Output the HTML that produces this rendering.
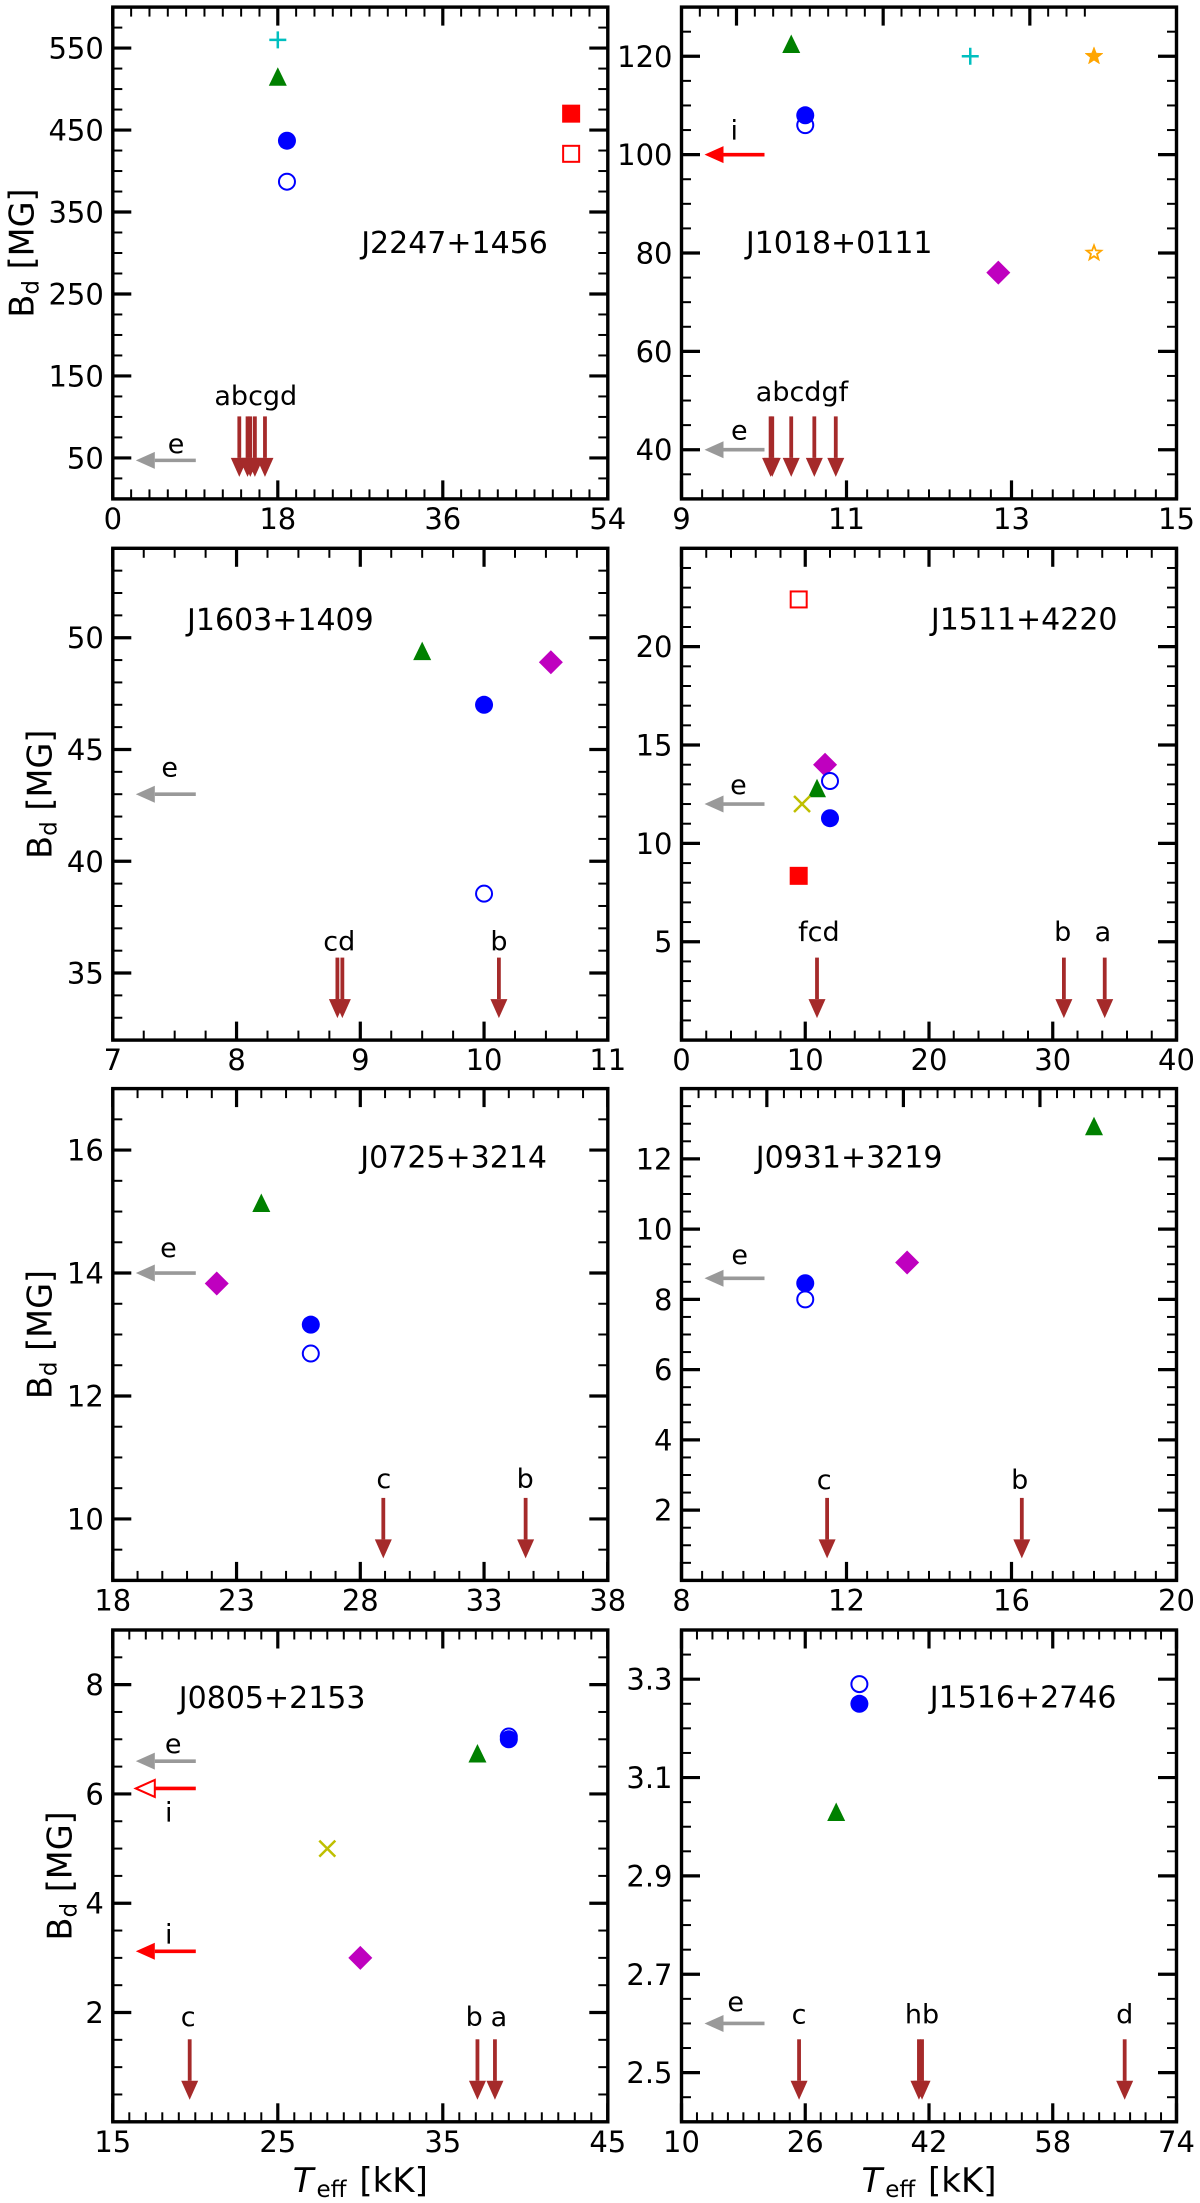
<!DOCTYPE html>
<html lang="en">
<head>
<meta charset="utf-8">
<title>Dipole field strength vs effective temperature</title>
<style>
html,body{margin:0;padding:0;background:#fff;}
body{width:1200px;height:2203px;overflow:hidden;}
svg{display:block;}
text{font-family:"DejaVu Sans","Liberation Sans",sans-serif;fill:#000;}
</style>
</head>
<body>
<svg id="chart" xmlns="http://www.w3.org/2000/svg" width="1200" height="2203" viewBox="0 0 1200 2203"></svg>
<script>
/* J2247+1456 */
const xLimJ2247 = [0, 54];
const yLimJ2247 = [0, 600];
const xTicksJ2247 = ['0', '18', '36', '54'];
const yTicksJ2247 = ['50', '150', '250', '350', '450', '550'];
const pointsJ2247 = [
  {kind:'plus', x:18, y:560}, {kind:'triangle', x:18, y:515},
  {kind:'open-circle', x:19, y:387}, {kind:'filled-circle', x:19, y:437},
  {kind:'filled-square', x:50, y:470}, {kind:'open-square', x:50, y:421}
];
const downArrowsJ2247 = [13.8, 14.7, 15.0, 15.5, 16.6];
const leftArrowsJ2247 = [{kind:'e', y:47}];
const labelsJ2247 = [{t:'abcgd', x:15.6, y:114.7}, {t:'e', x:6.9, y:55.8}];
const titleJ2247 = {t:'J2247+1456', x:27.1, y:300};

/* J1018+0111 */
const xLimJ1018 = [9, 15];
const yLimJ1018 = [30, 130];
const xTicksJ1018 = ['9', '11', '13', '15'];
const yTicksJ1018 = ['40', '60', '80', '100', '120'];
const pointsJ1018 = [
  {kind:'triangle', x:10.33, y:122.5}, {kind:'open-circle', x:10.5, y:106},
  {kind:'filled-circle', x:10.5, y:108}, {kind:'plus', x:12.5, y:120},
  {kind:'filled-star', x:14, y:120}, {kind:'open-star', x:14, y:80},
  {kind:'diamond', x:12.84, y:76}
];
const downArrowsJ1018 = [10.08, 10.1, 10.33, 10.61, 10.87];
const leftArrowsJ1018 = [{kind:'i', y:100}, {kind:'e', y:40}];
const labelsJ1018 = [{t:'abcdgf', x:10.46, y:49.9}, {t:'e', x:9.7, y:42.1}, {t:'i', x:9.64, y:103.1}];
const titleJ1018 = {t:'J1018+0111', x:9.78, y:80};

/* J1603+1409 */
const xLimJ1603 = [7, 11];
const yLimJ1603 = [32, 54];
const xTicksJ1603 = ['7', '8', '9', '10', '11'];
const yTicksJ1603 = ['35', '40', '45', '50'];
const pointsJ1603 = [
  {kind:'triangle', x:9.5, y:49.4}, {kind:'diamond', x:10.54, y:48.9},
  {kind:'filled-circle', x:10, y:47}, {kind:'open-circle', x:10, y:38.55}
];
const downArrowsJ1603 = [8.815, 8.855, 10.12];
const leftArrowsJ1603 = [{kind:'e', y:43}];
const labelsJ1603 = [{t:'cd', x:8.83, y:36}, {t:'b', x:10.12, y:36}, {t:'e', x:7.46, y:43.8}];
const titleJ1603 = {t:'J1603+1409', x:7.6, y:50.35};

/* J1511+4220 */
const xLimJ1511 = [0, 40];
const yLimJ1511 = [0, 25];
const xTicksJ1511 = ['0', '10', '20', '30', '40'];
const yTicksJ1511 = ['5', '10', '15', '20'];
const pointsJ1511 = [
  {kind:'open-square', x:9.47, y:22.4}, {kind:'filled-square', x:9.47, y:8.35},
  {kind:'diamond', x:11.6, y:14}, {kind:'triangle', x:10.95, y:12.8},
  {kind:'open-circle', x:12, y:13.17}, {kind:'cross', x:9.74, y:12},
  {kind:'filled-circle', x:12, y:11.28}
];
const downArrowsJ1511 = [10.95, 30.9, 34.2];
const leftArrowsJ1511 = [{kind:'e', y:12}];
const labelsJ1511 = [{t:'fcd', x:11.1, y:5.05}, {t:'b', x:30.8, y:5.05}, {t:'a', x:34.05, y:5.05}, {t:'e', x:4.6, y:12.5}];
const titleJ1511 = {t:'J1511+4220', x:20.15, y:20.88};

/* J0725+3214 */
const xLimJ0725 = [18, 38];
const yLimJ0725 = [9, 17];
const xTicksJ0725 = ['18', '23', '28', '33', '38'];
const yTicksJ0725 = ['10', '12', '14', '16'];
const pointsJ0725 = [
  {kind:'triangle', x:24, y:15.14}, {kind:'diamond', x:22.2, y:13.83},
  {kind:'filled-circle', x:26, y:13.16}, {kind:'open-circle', x:26, y:12.69}
];
const downArrowsJ0725 = [28.93, 34.68];
const leftArrowsJ0725 = [{kind:'e', y:14}];
const labelsJ0725 = [{t:'c', x:28.95, y:10.5}, {t:'b', x:34.66, y:10.5}, {t:'e', x:20.25, y:14.26}];
const titleJ0725 = {t:'J0725+3214', x:28.0, y:15.72};

/* J0931+3219 */
const xLimJ0931 = [8, 20];
const yLimJ0931 = [0, 14];
const xTicksJ0931 = ['8', '12', '16', '20'];
const yTicksJ0931 = ['2', '4', '6', '8', '10', '12'];
const pointsJ0931 = [
  {kind:'triangle', x:18, y:12.93}, {kind:'diamond', x:13.47, y:9.05},
  {kind:'open-circle', x:11, y:8}, {kind:'filled-circle', x:11, y:8.46}
];
const downArrowsJ0931 = [11.53, 16.25];
const leftArrowsJ0931 = [{kind:'e', y:8.6}];
const labelsJ0931 = [{t:'c', x:11.46, y:2.6}, {t:'b', x:16.2, y:2.6}, {t:'e', x:9.41, y:9}];
const titleJ0931 = {t:'J0931+3219', x:9.8, y:11.76};

/* J0805+2153 */
const xLimJ0805 = [15, 45];
const yLimJ0805 = [0, 9];
const xTicksJ0805 = ['15', '25', '35', '45'];
const yTicksJ0805 = ['2', '4', '6', '8'];
const pointsJ0805 = [
  {kind:'open-circle', x:39, y:7.05}, {kind:'filled-circle', x:39, y:7},
  {kind:'triangle', x:37.1, y:6.74}, {kind:'cross', x:28, y:5},
  {kind:'diamond', x:30, y:3}
];
const downArrowsJ0805 = [19.66, 37.1, 38.16];
const leftArrowsJ0805 = [{kind:'e', y:6.6}, {kind:'i-open', y:6.1}, {kind:'i', y:3.12}];
const labelsJ0805 = [
  {t:'e', x:18.66, y:6.75}, {t:'i', x:18.39, y:5.5}, {t:'i', x:18.39, y:3.26},
  {t:'c', x:19.57, y:1.75}, {t:'b', x:36.9, y:1.75}, {t:'a', x:38.4, y:1.75}
];
const titleJ0805 = {t:'J0805+2153', x:19, y:7.57};

/* J1516+2746 */
const xLimJ1516 = [10, 74];
const yLimJ1516 = [2.4, 3.4];
const xTicksJ1516 = ['10', '26', '42', '58', '74'];
const yTicksJ1516 = ['2.5', '2.7', '2.9', '3.1', '3.3'];
const pointsJ1516 = [
  {kind:'open-circle', x:33, y:3.29}, {kind:'filled-circle', x:33, y:3.25},
  {kind:'triangle', x:30, y:3.03}
];
const downArrowsJ1516 = [25.2, 40.7, 41.1, 67.3];
const leftArrowsJ1516 = [{kind:'e', y:2.6}];
const labelsJ1516 = [{t:'c', x:25.2, y:2.6}, {t:'hb', x:41.1, y:2.6}, {t:'d', x:67.3, y:2.6}, {t:'e', x:17, y:2.625}];
const titleJ1516 = {t:'J1516+2746', x:42.1, y:3.242};

const panels = [
  {id:'j2247', col:0, row:0, xLim:xLimJ2247, yLim:yLimJ2247, xT:xTicksJ2247, yT:yTicksJ2247, xMinor:2, yMinor:25, pts:pointsJ2247, down:downArrowsJ2247, left:leftArrowsJ2247, labels:labelsJ2247, title:titleJ2247, yLabelX:33.7},
  {id:'j1018', col:1, row:0, xLim:xLimJ1018, yLim:yLimJ1018, xT:xTicksJ1018, yT:yTicksJ1018, xMinor:0.25, yMinor:5, pts:pointsJ1018, down:downArrowsJ1018, left:leftArrowsJ1018, labels:labelsJ1018, title:titleJ1018, topTicks:{div:27, count:22, first:3, every:8}},
  {id:'j1603', col:0, row:1, xLim:xLimJ1603, yLim:yLimJ1603, xT:xTicksJ1603, yT:yTicksJ1603, xMinor:0.25, yMinor:1, pts:pointsJ1603, down:downArrowsJ1603, left:leftArrowsJ1603, labels:labelsJ1603, title:titleJ1603, yLabelX:51.7},
  {id:'j1511', col:1, row:1, xLim:xLimJ1511, yLim:yLimJ1511, xT:xTicksJ1511, yT:yTicksJ1511, xMinor:2, yMinor:1, pts:pointsJ1511, down:downArrowsJ1511, left:leftArrowsJ1511, labels:labelsJ1511, title:titleJ1511},
  {id:'j0725', col:0, row:2, xLim:xLimJ0725, yLim:yLimJ0725, xT:xTicksJ0725, yT:yTicksJ0725, xMinor:1, yMinor:0.5, pts:pointsJ0725, down:downArrowsJ0725, left:leftArrowsJ0725, labels:labelsJ0725, title:titleJ0725, yLabelX:51.7},
  {id:'j0931', col:1, row:2, xLim:xLimJ0931, yLim:yLimJ0931, xT:xTicksJ0931, yT:yTicksJ0931, xMinor:0.5, yMinor:0.5, pts:pointsJ0931, down:downArrowsJ0931, left:leftArrowsJ0931, labels:labelsJ0931, title:titleJ0931, topTicks:{div:29, count:28, first:5, every:8}},
  {id:'j0805', col:0, row:3, xLim:xLimJ0805, yLim:yLimJ0805, xT:xTicksJ0805, yT:yTicksJ0805, xMinor:1, yMinor:0.5, pts:pointsJ0805, down:downArrowsJ0805, left:leftArrowsJ0805, labels:labelsJ0805, title:titleJ0805, yLabelX:71.6, xLabel:true},
  {id:'j1516', col:1, row:3, xLim:xLimJ1516, yLim:yLimJ1516, xT:xTicksJ1516, yT:yTicksJ1516, xMinor:2, yMinor:0.05, pts:pointsJ1516, down:downArrowsJ1516, left:leftArrowsJ1516, labels:labelsJ1516, title:titleJ1516, xLabel:true}
];

const colLeft = [112.8, 681.5];
const panelWidth = 495;
const rowTop = [7.1, 548.3, 1088.6, 1630];
const panelHeight = 491.8;
const SVGNS = 'http://www.w3.org/2000/svg';
const root = document.getElementById('chart');

const arrowStyle = {
  'e': {stroke:'#999999', fill:'#999999'},
  'i': {stroke:'#ff0000', fill:'#ff0000'},
  'i-open': {stroke:'#ff0000', fill:'#ffffff'}
};

function make(tag, attrs, parent) {
  const el = document.createElementNS(SVGNS, tag);
  for (const k in attrs) el.setAttribute(k, attrs[k]);
  parent.appendChild(el);
  return el;
}

function tickValues(lim, step) {
  const n = Math.round((lim[1] - lim[0]) / step);
  const out = [];
  for (let i = 0; i <= n; i++) out.push(lim[0] + i * step);
  return out;
}

function drawMarker(g, kind, cx, cy) {
  let el;
  const pt = (a) => a.map(p => (cx + p[0]).toFixed(2) + ',' + (cy + p[1]).toFixed(2)).join(' ');
  if (kind === 'filled-circle') {
    el = make('circle', {cx:cx, cy:cy, r:9, fill:'#0000ff'}, g);
  } else if (kind === 'open-circle') {
    el = make('circle', {cx:cx, cy:cy, r:8, fill:'#ffffff', stroke:'#0000ff', 'stroke-width':2}, g);
  } else if (kind === 'filled-square') {
    el = make('rect', {x:cx - 9, y:cy - 9, width:18, height:18, fill:'#ff0000'}, g);
  } else if (kind === 'open-square') {
    el = make('rect', {x:cx - 8, y:cy - 8, width:16, height:16, fill:'#ffffff', stroke:'#ff0000', 'stroke-width':2}, g);
  } else if (kind === 'triangle') {
    el = make('polygon', {points:pt([[0,-9.5],[9,9],[-9,9]]), fill:'#008000'}, g);
  } else if (kind === 'diamond') {
    el = make('polygon', {points:pt([[0,-12],[12,0],[0,12],[-12,0]]), fill:'#bf00bf'}, g);
  } else if (kind === 'plus') {
    el = make('path', {d:'M' + (cx - 8.5) + ' ' + cy + 'H' + (cx + 8.5) + 'M' + cx + ' ' + (cy - 8.5) + 'V' + (cy + 8.5), stroke:'#00bfbf', 'stroke-width':2.5, fill:'none'}, g);
  } else if (kind === 'cross') {
    el = make('path', {d:'M' + (cx - 8) + ' ' + (cy - 8) + 'L' + (cx + 8) + ' ' + (cy + 8) + 'M' + (cx - 8) + ' ' + (cy + 8) + 'L' + (cx + 8) + ' ' + (cy - 8), stroke:'#bfbf00', 'stroke-width':2.5, fill:'none'}, g);
  } else {
    const open = kind === 'open-star';
    const outer = open ? 7.6 : 9.4;
    const star = [];
    for (let i = 0; i < 10; i++) {
      const r = i % 2 ? outer * 0.42 : outer;
      const a = -Math.PI / 2 + i * Math.PI / 5;
      star.push([r * Math.cos(a), r * Math.sin(a)]);
    }
    el = make('polygon', {points:pt(star), fill:open ? '#ffffff' : '#ffa500', stroke:'#ffa500', 'stroke-width':open ? 1.8 : 0.5}, g);
  }
  
  
}

panels.forEach(function (p) {
  const L = colLeft[p.col], T = rowTop[p.row], R = L + panelWidth, B = T + panelHeight;
  const xs = v => L + (v - p.xLim[0]) / (p.xLim[1] - p.xLim[0]) * panelWidth;
  const ys = v => B - (v - p.yLim[0]) / (p.yLim[1] - p.yLim[0]) * panelHeight;

  const g = make('g', {}, root);
  
  

  /* ticks */
  const ticks = make('g', {stroke:'#000'}, g);
  
  
  const tick = (x1, y1, x2, y2, w, name) => {
    const t = make('line', {x1:x1, y1:y1, x2:x2, y2:y2, 'stroke-width':w}, ticks);
    
    
  };
  const MAJ = 18.5, MIN = 9.5, WMAJ = 3.2, WMIN = 2;
  const xMaj = p.xT.map(Number), yMaj = p.yT.map(Number);
  tickValues(p.xLim, p.xMinor).forEach(v => {
    tick(xs(v), B, xs(v), B - MIN, WMIN, 'x-minor-tick');
    if (!p.topTicks) tick(xs(v), T, xs(v), T + MIN, WMIN, 'x-top-minor-tick');
  });
  xMaj.forEach(v => {
    tick(xs(v), B, xs(v), B - MAJ, WMAJ, 'x-major-tick');
    if (!p.topTicks) tick(xs(v), T, xs(v), T + MAJ, WMAJ, 'x-top-major-tick');
  });
  if (p.topTicks) {
    const tt = p.topTicks;
    for (let k = 1; k <= tt.count; k++) {
      const x = L + k / tt.div * panelWidth;
      const major = (k - tt.first) % tt.every === 0;
      tick(x, T, x, T + (major ? MAJ : MIN), major ? WMAJ : WMIN, 'x-top-tick');
    }
  }
  tickValues(p.yLim, p.yMinor).forEach(v => {
    tick(L, ys(v), L + MIN, ys(v), WMIN, 'y-minor-tick');
    tick(R, ys(v), R - MIN, ys(v), WMIN, 'y-right-minor-tick');
  });
  yMaj.forEach(v => {
    tick(L, ys(v), L + MAJ, ys(v), WMAJ, 'y-major-tick');
    tick(R, ys(v), R - MAJ, ys(v), WMAJ, 'y-right-major-tick');
  });

  /* spines */
  const frame = make('rect', {x:L, y:T, width:panelWidth, height:panelHeight, fill:'none', stroke:'#000', 'stroke-width':3.4}, g);
  
  

  /* tick labels */
  p.xT.forEach(s => {
    const t = make('text', {x:xs(Number(s)), y:B + 30, 'font-size':29, 'text-anchor':'middle'}, g);
    t.textContent = s;
    
    
  });
  p.yT.forEach(s => {
    const t = make('text', {x:L - 9, y:ys(Number(s)) + 10.5, 'font-size':29, 'text-anchor':'end'}, g);
    t.textContent = s;
    
    
  });

  /* axis titles */
  if (p.yLabelX) {
    const cy = (T + B) / 2;
    const t = make('text', {'font-size':33.5, 'text-anchor':'middle', transform:'translate(' + p.yLabelX + ',' + cy + ') rotate(-90)'}, g);
    
    
    make('tspan', {}, t).textContent = 'B';
    make('tspan', {'font-size':23, dy:5}, t).textContent = 'd';
    make('tspan', {dy:-5}, t).textContent = '\u00a0[MG]';
  }
  if (p.xLabel) {
    const t = make('text', {x:(L + R) / 2, y:B + 70, 'font-size':34, 'text-anchor':'middle'}, g);
    
    
    make('tspan', {'font-style':'italic'}, t).textContent = 'T';
    make('tspan', {'font-size':23, dy:5, dx:3}, t).textContent = 'eff';
    make('tspan', {dy:-5, dx:2}, t).textContent = '\u00a0[kK]';
  }

  /* horizontal arrows */
  p.left.forEach(a => {
    const st = arrowStyle[a.kind];
    const y = ys(a.y);
    const tail = L + 83, tip = L + 23, headEnd = tip + 19;
    const ag = make('g', {}, g);
    
    
    make('line', {x1:tail, y1:y, x2:headEnd, y2:y, stroke:st.stroke, 'stroke-width':3.6}, ag);
    make('polygon', {points:tip + ',' + y + ' ' + headEnd + ',' + (y - 8.5) + ' ' + headEnd + ',' + (y + 8.5), fill:st.fill, stroke:a.kind === 'i-open' ? st.stroke : 'none', 'stroke-width':2}, ag);
  });

  /* vertical arrows */
  p.down.forEach(v => {
    const x = xs(v);
    const tail = B - 82.5, tip = B - 22, headEnd = tip - 19;
    const ag = make('g', {}, g);
    
    
    make('line', {x1:x, y1:tail, x2:x, y2:headEnd, stroke:'#a52a2a', 'stroke-width':3.8}, ag);
    make('polygon', {points:x + ',' + tip + ' ' + (x - 8.5) + ',' + headEnd + ' ' + (x + 8.5) + ',' + headEnd, fill:'#a52a2a'}, ag);
  });

  /* points */
  p.pts.forEach(m => drawMarker(g, m.kind, xs(m.x), ys(m.y)));

  /* annotation labels */
  p.labels.forEach(l => {
    const t = make('text', {x:xs(l.x), y:ys(l.y), 'font-size':27, 'text-anchor':'middle'}, g);
    t.textContent = l.t;
    
    
  });
  const title = make('text', {x:xs(p.title.x), y:ys(p.title.y), 'font-size':30}, g);
  title.textContent = p.title.t;
  
  
});
</script>
</body>
</html>
